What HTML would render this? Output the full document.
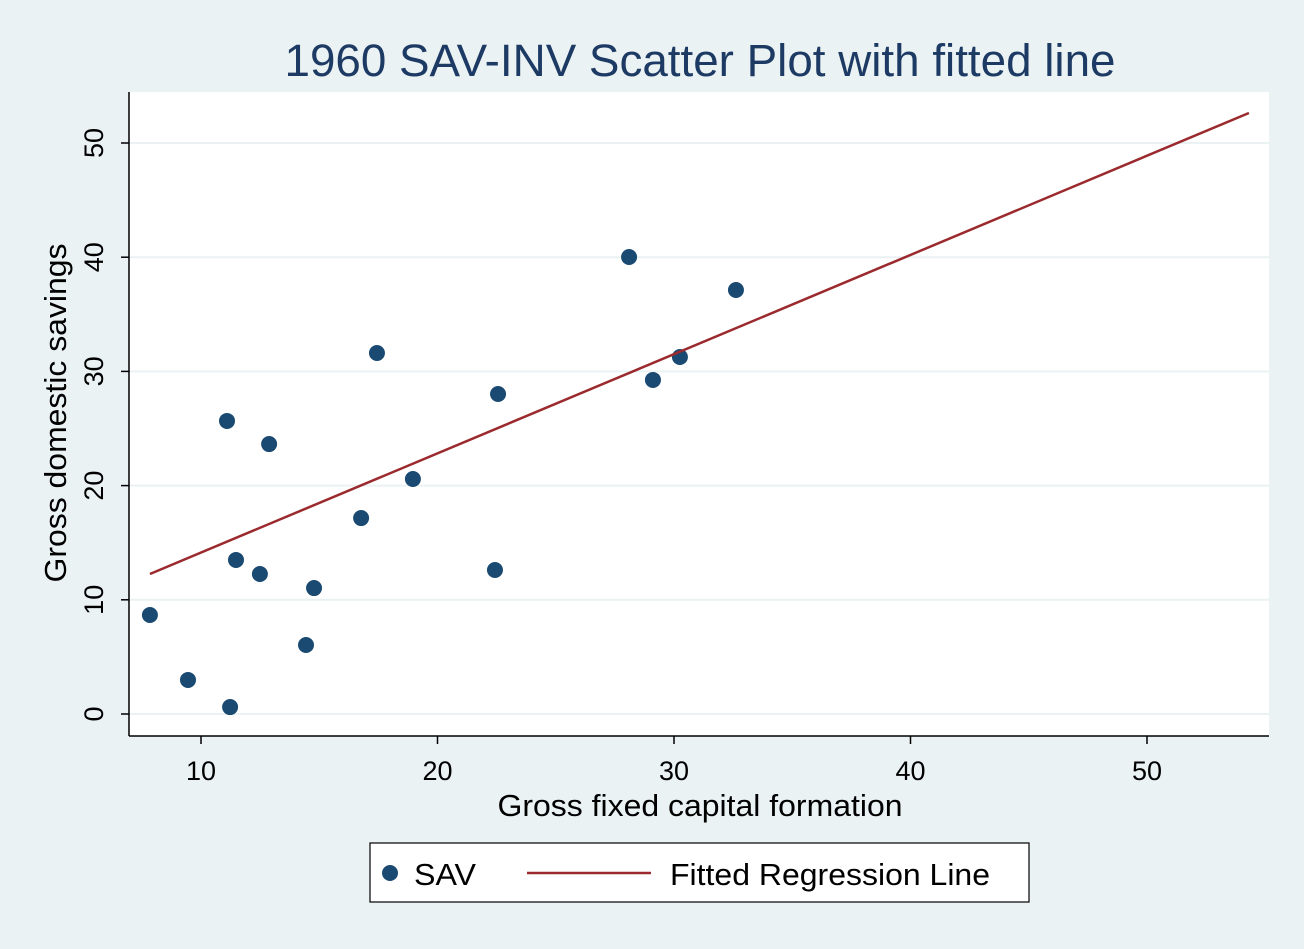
<!DOCTYPE html>
<html><head><meta charset="utf-8"><style>
html,body{margin:0;padding:0;background:#eaf2f3;}
svg{display:block;font-family:"Liberation Sans",sans-serif;}
</style></head><body>
<svg id="chart" width="1304" height="949" viewBox="0 0 1304 949" xmlns="http://www.w3.org/2000/svg">
<rect x="0" y="0" width="1304" height="949" fill="#eaf2f3"/>
<text x="700" y="76" text-anchor="middle" font-size="45" textLength="831" lengthAdjust="spacingAndGlyphs" fill="#1c3a63">1960 SAV-INV Scatter Plot with fitted line</text>
<rect x="129" y="92" width="1140" height="644" fill="#ffffff"/>
<g id="grid"></g>
<line x1="129" y1="92" x2="129" y2="736" stroke="#000" stroke-width="1.5"/>
<line x1="129" y1="736" x2="1269" y2="736" stroke="#000" stroke-width="1.5"/>
<g id="ticks"></g>
<g id="marks"></g>
<text x="700" y="816" text-anchor="middle" font-size="31" textLength="405" lengthAdjust="spacingAndGlyphs" fill="#000">Gross fixed capital formation</text>
<text transform="translate(66,413) rotate(-90)" text-anchor="middle" font-size="31" textLength="339" lengthAdjust="spacingAndGlyphs" fill="#000">Gross domestic savings</text>
<g>
<rect x="370" y="843" width="659" height="59" fill="#ffffff" stroke="#000" stroke-width="1.2"/>
<circle cx="390" cy="873" r="8" fill="#1a4a72"/>
<text x="414" y="885" font-size="31" textLength="62" lengthAdjust="spacingAndGlyphs" fill="#000">SAV</text>
<line x1="527" y1="873" x2="651" y2="873" stroke="#9b2a2e" stroke-width="2.5"/>
<text x="670" y="885" font-size="31" textLength="320" lengthAdjust="spacingAndGlyphs" fill="#000">Fitted Regression Line</text>
</g>
</svg>
<script>
const savX=[7.84,9.45,11.23,11.10,11.48,12.49,12.88,14.44,14.78,16.77,17.44,18.96,22.43,22.56,28.10,29.11,30.25,32.62];
const savY=[8.67,2.98,0.61,25.66,13.49,12.26,23.64,6.04,11.03,17.16,31.61,20.58,12.61,28.02,40.02,29.25,31.26,37.13];
const fitXRange=[7.84,54.31];
const fitSlope=0.8687;
const fitIntercept=5.45;
const xTicks=[10,20,30,40,50];
const yTicks=[0,10,20,30,40,50];
const NS="http://www.w3.org/2000/svg";
function sx(v){return 201+(v-10)*23.65;}
function sy(v){return 714-v*11.42;}
function mk(t,a,p){const e=document.createElementNS(NS,t);for(const k in a)e.setAttribute(k,a[k]);p.appendChild(e);return e;}
const grid=document.getElementById('grid'),ticks=document.getElementById('ticks'),marks=document.getElementById('marks');
yTicks.forEach(v=>{
 const g=mk('line',{x1:129,x2:1269,y1:sy(v),y2:sy(v),stroke:'#eaf2f3','stroke-width':2},grid);
 
 
 const t=mk('line',{x1:121,x2:129,y1:sy(v),y2:sy(v),stroke:'#000','stroke-width':1.5},ticks);
 
 
 const l=mk('text',{transform:`translate(103,${sy(v)}) rotate(-90)`,'text-anchor':'middle','font-size':27},ticks);
 l.textContent=v;
 
 
});
xTicks.forEach(v=>{
 const t=mk('line',{x1:sx(v),x2:sx(v),y1:736,y2:744,stroke:'#000','stroke-width':1.5},ticks);
 
 
 const l=mk('text',{x:sx(v),y:780,'text-anchor':'middle','font-size':27},ticks);
 l.textContent=v;
 
 
});
savX.forEach((x,i)=>{
 const c=mk('circle',{cx:sx(x),cy:sy(savY[i]),r:8,fill:'#1a4a72'},marks);
 
 
});
const f=mk('line',{x1:sx(fitXRange[0]),y1:sy(fitIntercept+fitSlope*fitXRange[0]),x2:sx(fitXRange[1]),y2:sy(fitIntercept+fitSlope*fitXRange[1]),stroke:'#9b2a2e','stroke-width':2.5},marks);


</script>
</body></html>
